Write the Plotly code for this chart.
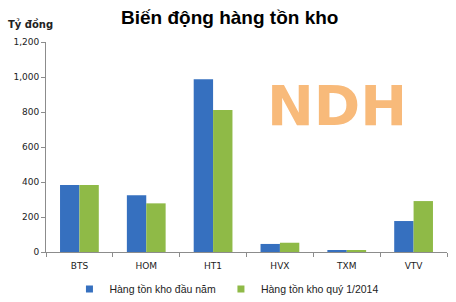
import plotly.graph_objects as go

categories = ["BTS", "HOM", "HT1", "HVX", "TXM", "VTV"]
dau_nam = [383, 324, 987, 46, 8, 177]
quy1_2014 = [383, 278, 811, 53, 7, 291]
series_names = ["Hàng tồn kho đầu năm", "Hàng tồn kho quý 1/2014"]
series_colors = ["#3670bf", "#8fba47"]
tick_vals = [0, 200, 400, 600, 800, 1000, 1200]
tick_text = ["0", "200", "400", "600", "800", "1,000", "1,200"]

fig = go.Figure()
for vals, name, col in zip([dau_nam, quy1_2014], series_names, series_colors):
    fig.add_trace(go.Bar(x=categories, y=vals, name=name, showlegend=False,
                         marker=dict(color=col, line=dict(width=0))))
# legend entries with small square markers
for name, col in zip(series_names, series_colors):
    fig.add_trace(go.Scatter(x=[None], y=[None], mode="markers", name=name,
                             marker=dict(symbol="square", size=7, color=col)))

fig.update_layout(
    width=456, height=302,
    margin=dict(l=46, r=9, t=42, b=50, autoexpand=False),
    paper_bgcolor="white", plot_bgcolor="white",
    barmode="group", bargap=0.42, bargroupgap=0,
    font=dict(family="DejaVu Sans", size=9, color="#222222"),
    showlegend=True,
    legend=dict(orientation="h", x=0.45, xanchor="center",
                yref="container", y=1 - 289 / 302, yanchor="middle",
                font=dict(family="Liberation Sans", size=10.5, color="#222222"),
                itemwidth=30, tracegroupgap=0, bgcolor="rgba(0,0,0,0)"),
    xaxis=dict(type="category", showline=True, linecolor="#8c8c8c", linewidth=1,
               ticks="outside", tickson="boundaries", ticklen=4, tickcolor="#8c8c8c",
               showgrid=False, tickfont=dict(size=9), ticklabelstandoff=5,
               automargin=False),
    yaxis=dict(range=[0, 1200], tickvals=tick_vals, ticktext=tick_text,
               showline=True, linecolor="#8c8c8c", linewidth=1,
               ticks="outside", ticklen=4, tickcolor="#8c8c8c",
               showgrid=False, zeroline=False, tickfont=dict(size=9),
               automargin=False),
    annotations=[
        dict(text="<b>Biến động hàng tồn kho</b>", x=229, y=18, showarrow=False,
             font=dict(family="Liberation Sans", size=19, color="#000000")),
        dict(text="<b>Tỷ đồng</b>", x=30, y=24, showarrow=False,
             font=dict(family="DejaVu Sans", size=10, color="#222222")),
        dict(text="<b>NDH</b>", x=337, y=105, showarrow=False, opacity=0.85,
             font=dict(family="DejaVu Sans", size=56, color="#f7ae63")),
    ],
)

# convert pixel positions for annotations to paper coordinates
L, R, T, B = 46, 9, 42, 50
pw, ph = 456 - L - R, 302 - T - B
for a in fig.layout.annotations:
    a.xref = "paper"; a.yref = "paper"
    a.x = (a.x - L) / pw
    a.y = (302 - B - a.y) / ph
    a.xanchor = "center"; a.yanchor = "middle"

fig.write_html("out.html")
